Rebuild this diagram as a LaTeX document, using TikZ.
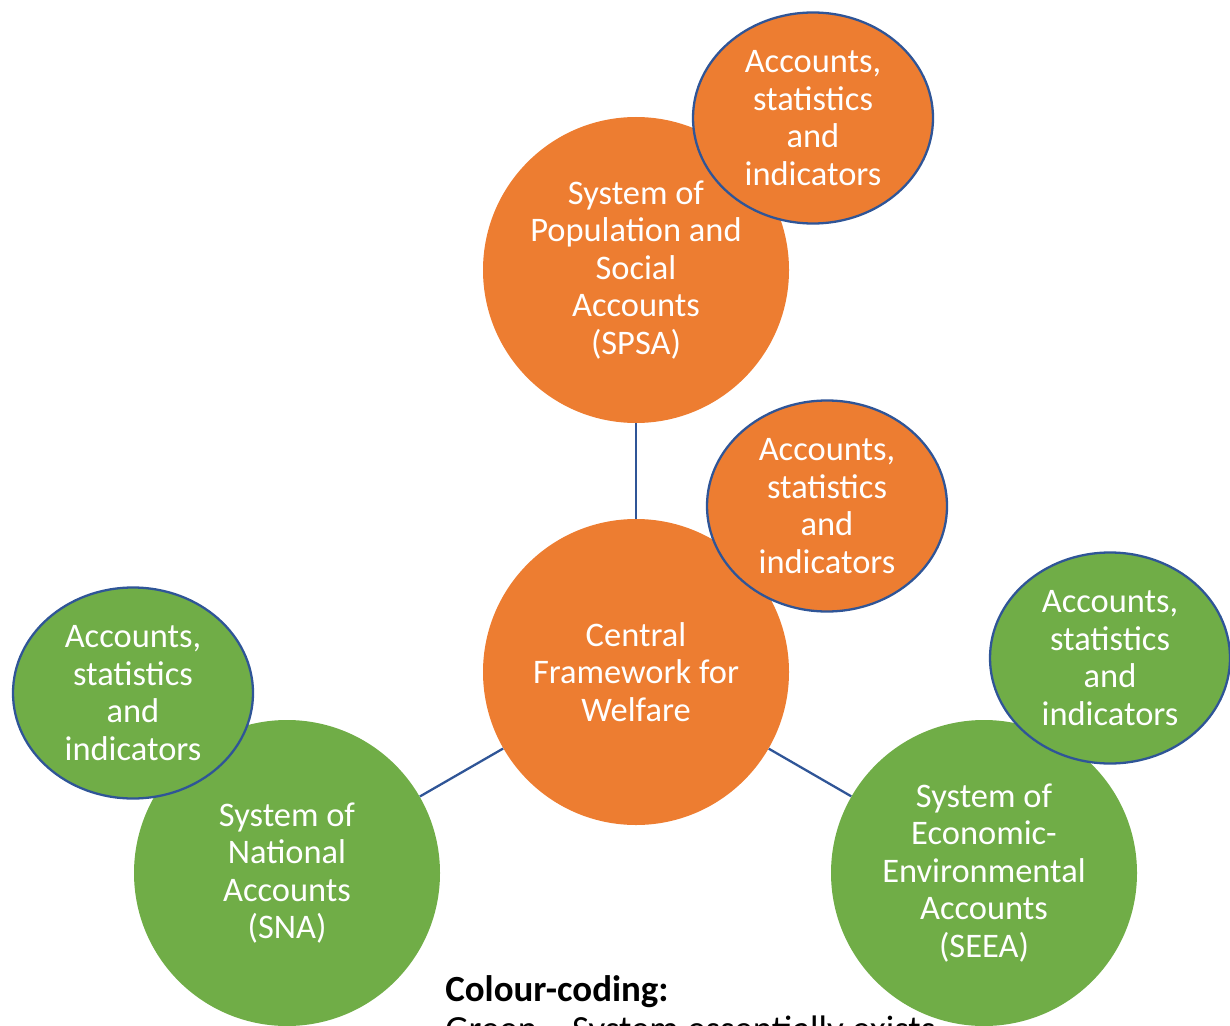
\documentclass[tikz,border=0pt]{standalone}
\usepackage{fontspec}
\setmainfont{Carlito}
\usetikzlibrary{shapes.geometric}
\definecolor{WelOrange}{HTML}{ED7D31}
\definecolor{WelGreen}{HTML}{70AD47}
\definecolor{WelBlue}{HTML}{2F5597}
\begin{document}
\begin{tikzpicture}[
        system/.style={circle,fill=#1,text=white,align=center,inner sep=0pt,
          minimum size=6.12cm,font=\fontsize{19.6}{21.3}\selectfont},
        stats/.style={ellipse,fill=#1,draw=WelBlue,line width=1.3pt,text=white,
          align=center,inner sep=0pt,minimum width=4.8cm,minimum height=4.22cm,
          font=\fontsize{19.6}{21.3}\selectfont},
        link/.style={draw=WelBlue,line width=1.3pt},
        legend/.style={anchor=base west,inner sep=0pt,font=\fontsize{21}{25}\selectfont}
      ]
        \useasboundingbox (0,0) rectangle (24.6,-20.5);
        \node[system=WelOrange] (spsa) at (12.72,-5.4) {System of\\Population and\\Social\\Accounts\\(SPSA)};
        \node[system=WelOrange] (central) at (12.72,-13.44) {Central\\Framework for\\Welfare};
        \node[system=WelGreen] (sna) at (5.74,-17.46) {System of\\National\\Accounts\\(SNA)};
        \node[system=WelGreen] (seea) at (19.68,-17.46) {System of\\Economic-\\Environmental\\Accounts\\(SEEA)};
        \node[stats=WelOrange] (spsastats) at (16.26,-2.36) {Accounts,\\statistics\\and\\indicators};
        \node[stats=WelOrange] (centralstats) at (16.54,-10.12) {Accounts,\\statistics\\and\\indicators};
        \node[stats=WelGreen] (snastats) at (2.66,-13.86) {Accounts,\\statistics\\and\\indicators};
        \node[stats=WelGreen] (seeastats) at (22.2,-13.16) {Accounts,\\statistics\\and\\indicators};
        \draw[link] (spsa) -- (central);
        \draw[link] (central) -- (sna);
        \draw[link] (central) -- (seea);
        \node[legend] (legendtitle) at (8.9,-20.02) {\textbf{Colour-coding:}};
        \node[legend] (legendgreen) at (8.9,-20.82) {Green -- System essentially exists};
      \end{tikzpicture}
\end{document}
